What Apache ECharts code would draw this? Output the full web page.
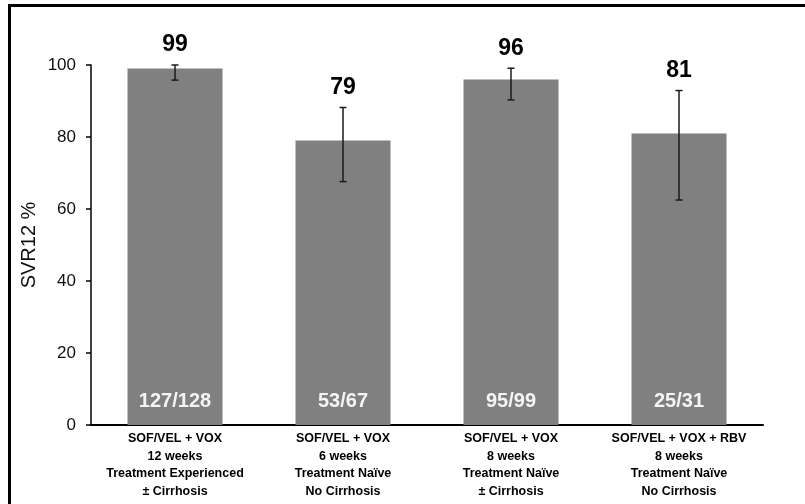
<!DOCTYPE html>
<html>
<head>
<meta charset="utf-8">
<title>SVR12</title>
<script src="https://cdn.jsdelivr.net/npm/echarts@6/dist/echarts.min.js"></script>
<style>
  html, body { margin: 0; padding: 0; background: #fff; }
  #chart { width: 805px; height: 504px; }
</style>
</head>
<body>
<div id="chart"></div>
<script>
// Treatment arms shown along the x axis
const categories = [
  'SOF/VEL + VOX\n12 weeks\nTreatment Experienced\n± Cirrhosis',
  'SOF/VEL + VOX\n6 weeks\nTreatment Naïve\nNo Cirrhosis',
  'SOF/VEL + VOX\n8 weeks\nTreatment Naïve\n± Cirrhosis',
  'SOF/VEL + VOX + RBV\n8 weeks\nTreatment Naïve\nNo Cirrhosis'
];
// SVR12 rate (%) per arm
const svrRate = [99, 79, 96, 81];
// 95% confidence interval bounds
const ciLow = [95.8, 67.6, 90.3, 62.5];
const ciHigh = [100, 88.2, 99.1, 92.9];
// Responders / patients treated
const responders = ['127/128', '53/67', '95/99', '25/31'];
// Y axis ticks
const yMin = 0, yMax = 100, yStep = 20;

const chart = echarts.init(document.getElementById('chart'), null, { renderer: 'canvas' });

const font = '"Liberation Sans", Arial, sans-serif';

const option = {
  backgroundColor: '#ffffff',
  animation: false,
  grid: { left: 91, right: 42, top: 65, bottom: 79, containLabel: false },
  graphic: [
    { type: 'line', shape: { x1: 8, y1: 5.5, x2: 805, y2: 5.5 }, style: { stroke: '#000', lineWidth: 3 } },
    { type: 'line', shape: { x1: 9.5, y1: 4, x2: 9.5, y2: 504 }, style: { stroke: '#000', lineWidth: 3 } }
  ],
  xAxis: {
    type: 'category',
    data: categories,
    axisLine: { show: true, lineStyle: { color: '#000', width: 2 } },
    axisTick: { show: false },
    axisLabel: {
      interval: 0,
      margin: 5,
      color: '#000',
      fontFamily: font,
      fontWeight: 'bold',
      fontSize: 12.5,
      lineHeight: 17.5,
      align: 'center'
    },
    splitLine: { show: false }
  },
  yAxis: {
    type: 'value',
    min: yMin,
    max: yMax,
    interval: yStep,
    name: 'SVR12 %',
    nameLocation: 'middle',
    nameRotate: 90,
    nameGap: 52,
    nameMoveOverlap: false,
    nameTextStyle: { color: '#111', fontFamily: font, fontSize: 20 },
    axisLine: { show: true, lineStyle: { color: '#000', width: 1.5 } },
    axisTick: { show: true, inside: false, length: 5, lineStyle: { color: '#000', width: 1.5 } },
    axisLabel: { margin: 15, color: '#111', fontFamily: font, fontSize: 17 },
    splitLine: { show: false }
  },
  series: [
    {
      type: 'bar',
      data: svrRate,
      barWidth: 95,
      itemStyle: { color: '#808080' },
      label: {
        show: true,
        position: 'insideBottom',
        distance: 14,
        formatter: (p) => responders[p.dataIndex],
        color: '#f4f4f4',
        fontFamily: font,
        fontWeight: 'bold',
        fontSize: 20
      },
      z: 2
    },
    {
      // Confidence interval whiskers plus the rate written above each one
      type: 'custom',
      data: svrRate.map((v, i) => [i, ciLow[i], ciHigh[i], v]),
      encode: { x: 0, y: [1, 2] },
      z: 5,
      renderItem: function (params, api) {
        const i = api.value(0);
        const lo = api.coord([i, api.value(1)]);
        const hi = api.coord([i, api.value(2)]);
        const cap = 3.5;
        const stroke = { stroke: '#1a1a1a', lineWidth: 1.5 };
        return {
          type: 'group',
          children: [
            { type: 'line', shape: { x1: lo[0], y1: lo[1], x2: hi[0], y2: hi[1] }, style: stroke },
            { type: 'line', shape: { x1: hi[0] - cap, y1: hi[1], x2: hi[0] + cap, y2: hi[1] }, style: stroke },
            { type: 'line', shape: { x1: lo[0] - cap, y1: lo[1], x2: lo[0] + cap, y2: lo[1] }, style: stroke },
            {
              type: 'text',
              x: hi[0],
              y: hi[1] - 20,
              style: {
                text: String(api.value(3)),
                fill: '#000',
                font: 'bold 23px ' + font,
                textAlign: 'center',
                textVerticalAlign: 'middle'
              }
            }
          ]
        };
      }
    }
  ]
};

chart.setOption(option);
</script>
</body>
</html>
